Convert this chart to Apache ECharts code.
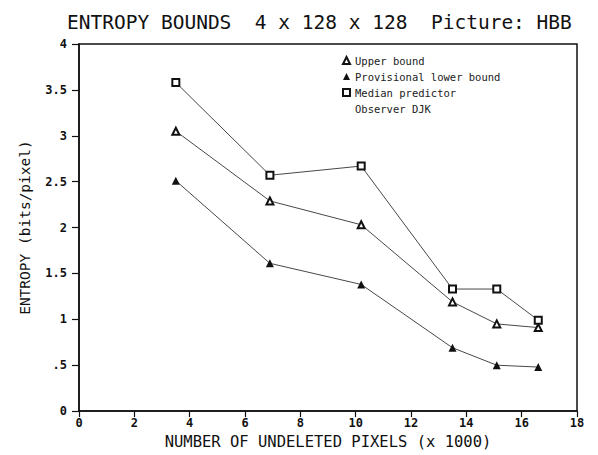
<!DOCTYPE html>
<html>
<head>
<meta charset="utf-8">
<script src="https://cdn.jsdelivr.net/npm/echarts@6/dist/echarts.min.js"></script>
<style>html,body{margin:0;padding:0;background:#fff}#c{width:598px;height:455px}</style>
</head>
<body>
<div id="c"></div>
<script>
const xValues = [3.5, 6.9, 10.2, 13.5, 15.1, 16.6];
const upperBound = [3.05, 2.29, 2.03, 1.19, 0.95, 0.91];
const lowerBound = [2.51, 1.61, 1.38, 0.69, 0.50, 0.48];
const medianPredictor = [3.58, 2.57, 2.67, 1.33, 1.33, 0.99];
const seriesNames = ['Upper bound', 'Provisional lower bound', 'Median predictor'];
const legendExtra = 'Observer DJK';
const titleText = 'ENTROPY BOUNDS  4 x 128 x 128  Picture: HBB';
const xName = 'NUMBER OF UNDELETED PIXELS (x 1000)';
const yName = 'ENTROPY (bits/pixel)';

const mono = 'DejaVu Sans Mono';
function pairs(ys){ return xValues.map((x,i)=>[x, ys[i]]); }
const lineStyle = {color:'#333', width:0.9};
const chart = echarts.init(document.getElementById('c'), null, {renderer:'svg'});
chart.setOption({
  animation:false,
  backgroundColor:'#fff',
  title:{text:titleText, left:62, top:7, textStyle:{fontFamily:mono, fontSize:19.5, fontWeight:'normal', color:'#111'}},
  grid:{left:79, right:21, top:44, bottom:41, show:true, borderColor:'#111', borderWidth:1.5, backgroundColor:'transparent'},
  legend:{
    orient:'vertical', left:337, top:50, itemGap:5, itemWidth:7, itemHeight:7,
    textStyle:{fontFamily:mono, fontSize:10.5, color:'#222'},
    data:[
      {name:seriesNames[0], icon:'emptyTriangle', itemStyle:{color:'#111', borderColor:'#111', borderWidth:1}},
      {name:seriesNames[1], icon:'triangle', itemStyle:{color:'#111'}},
      {name:seriesNames[2], icon:'emptyRect', itemStyle:{color:'#111', borderColor:'#111', borderWidth:1}}
    ]
  },
  graphic:[{type:'text', left:355, top:103, style:{text:legendExtra, font:'10.5px "DejaVu Sans Mono"', fill:'#222'}}],
  xAxis:{
    type:'value', min:0, max:18, interval:2,
    name:xName, nameLocation:'middle', nameGap:20,
    nameTextStyle:{fontFamily:mono, fontSize:15.5, color:'#111'},
    axisLine:{lineStyle:{color:'#111', width:1.5}},
    axisTick:{show:true, inside:false, length:6, lineStyle:{color:'#111', width:1.2}},
    axisLabel:{fontFamily:mono, fontSize:12, fontWeight:'bold', color:'#111', margin:6},
    splitLine:{show:false}
  },
  yAxis:{
    type:'value', min:0, max:4, interval:0.5,
    name:yName, nameLocation:'middle', nameGap:47, nameRotate:90,
    nameTextStyle:{fontFamily:mono, fontSize:14.5, color:'#111'},
    axisLine:{lineStyle:{color:'#111', width:1.5}},
    axisTick:{show:true, length:7, lineStyle:{color:'#111', width:1.2}},
    axisLabel:{fontFamily:mono, fontSize:12, fontWeight:'bold', color:'#111', margin:12,
      formatter:v=> v===0?'0': (v<1? String(v).replace(/^0/,''): String(v))},
    splitLine:{show:false}
  },
  series:[
    {name:seriesNames[0], type:'line', data:pairs(upperBound), symbol:'emptyTriangle', symbolSize:7,
      lineStyle, itemStyle:{color:'#111', borderColor:'#111', borderWidth:1}},
    {name:seriesNames[1], type:'line', data:pairs(lowerBound), symbol:'triangle', symbolSize:8,
      lineStyle, itemStyle:{color:'#111'}},
    {name:seriesNames[2], type:'line', data:pairs(medianPredictor), symbol:'emptyRect', symbolSize:7,
      lineStyle, itemStyle:{color:'#111', borderColor:'#111', borderWidth:1.2}}
  ]
});
</script>
</body>
</html>
